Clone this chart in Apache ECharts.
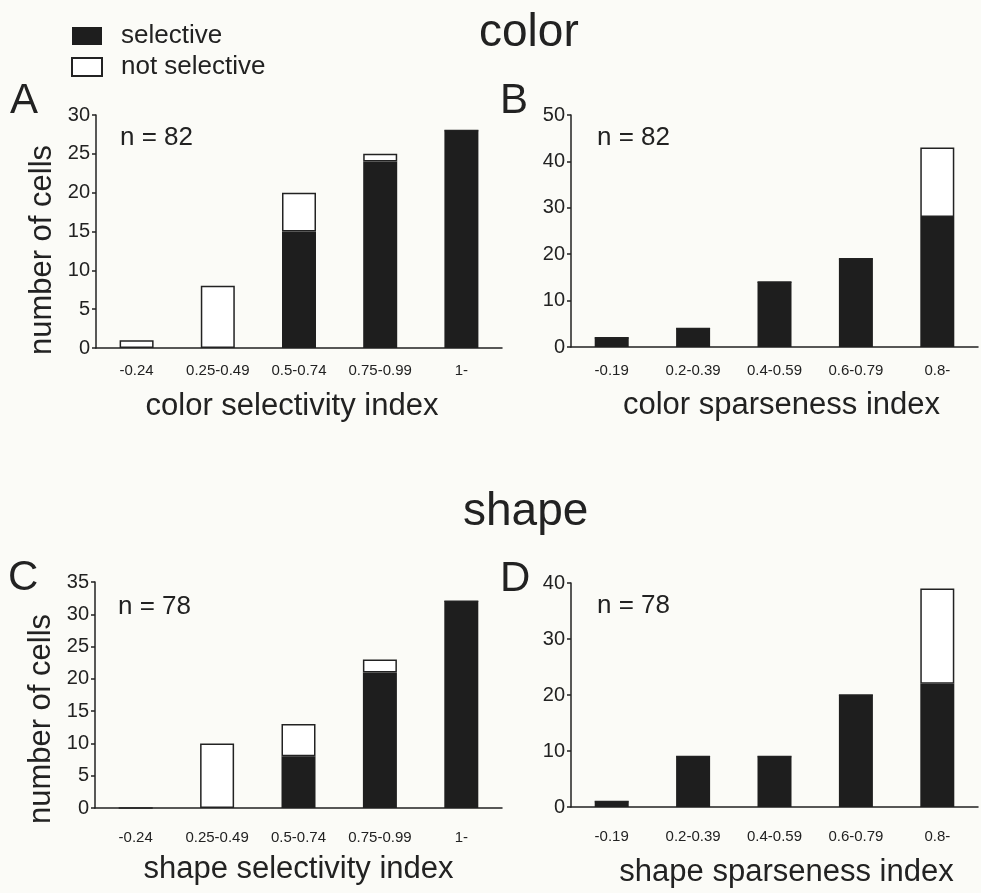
<!DOCTYPE html>
<html>
<head>
<meta charset="utf-8">
<title>color / shape selectivity</title>
<script src="https://cdn.jsdelivr.net/npm/echarts@6/dist/echarts.min.js"></script>
<style>
  html, body { margin: 0; padding: 0; background: #fbfbf7; }
  #main { width: 981px; height: 893px; }
</style>
</head>
<body>
<div id="main"></div>
<script>
// categories
const selectivityCats = ['-0.24', '0.25-0.49', '0.5-0.74', '0.75-0.99', '1-']
const sparsenessCats = ['-0.19', '0.2-0.39', '0.4-0.59', '0.6-0.79', '0.8-']

// A: color selectivity index
const aSelective = [0, 0, 15, 24, 28]
const aNotSelective = [1, 8, 5, 1, 0]
// B: color sparseness index
const bSelective = [2, 4, 14, 19, 28]
const bNotSelective = [0, 0, 0, 0, 15]
// C: shape selectivity index
const cSelective = [0, 0, 8, 21, 32]
const cNotSelective = [0, 10, 5, 2, 0]
// D: shape sparseness index
const dSelective = [1, 9, 9, 20, 22]
const dNotSelective = [0, 0, 0, 0, 17]

const FONT = "'Liberation Sans', Arial, sans-serif"
const INK = '#222'

function xAxis(gridIndex, cats, name, labelMargin, nameGap, namePad) {
  return {
    type: 'category',
    gridIndex: gridIndex,
    data: cats,
    axisLine: { lineStyle: { color: INK, width: 1.5 } },
    axisTick: { inside: true, length: 4, lineStyle: { color: INK, width: 1.5 } },
    axisLabel: {
      color: INK, fontSize: 15, fontFamily: FONT, margin: labelMargin,
      interval: 0, hideOverlap: false
    },
    name: name,
    nameLocation: 'middle',
    nameGap: nameGap,
    nameTextStyle: { color: INK, fontSize: 31, fontFamily: FONT, padding: namePad }
  }
}

function yAxis(gridIndex, max, interval, name, namePad) {
  return {
    type: 'value',
    gridIndex: gridIndex,
    min: 0,
    max: max,
    interval: interval,
    splitLine: { show: false },
    axisLine: { show: true, lineStyle: { color: INK, width: 1.5 } },
    axisTick: { show: true, length: 4, lineStyle: { color: INK, width: 1.5 } },
    axisLabel: { color: INK, fontSize: 20, fontFamily: FONT, margin: 6 },
    name: name,
    nameLocation: 'middle',
    nameRotate: 90,
    nameGap: 38,
    nameTextStyle: { color: INK, fontSize: 31, fontFamily: FONT, padding: namePad }
  }
}

function stack(idx, selective, notSelective) {
  return [
    {
      name: 'selective',
      type: 'bar',
      xAxisIndex: idx,
      yAxisIndex: idx,
      stack: 'g' + idx,
      barWidth: 34,
      itemStyle: { color: '#1e1e1e' },
      data: selective
    },
    {
      name: 'not selective',
      type: 'bar',
      xAxisIndex: idx,
      yAxisIndex: idx,
      stack: 'g' + idx,
      barWidth: 34,
      itemStyle: { color: '#ffffff', borderColor: INK, borderWidth: 1.5 },
      data: notSelective
    }
  ]
}

function label(text, x, y, size) {
  return {
    type: 'text',
    left: x,
    top: y - size / 2,
    style: { text: text, fill: INK, fontSize: size, fontFamily: FONT }
  }
}

const option = {
  backgroundColor: '#fbfbf7',
  animation: false,
  legend: {
    orient: 'vertical',
    left: 71,
    top: 23,
    padding: 0,
    itemWidth: 30,
    itemHeight: 18,
    itemGap: 5,
    icon: 'rect',
    textStyle: { color: INK, fontSize: 26, fontFamily: FONT, padding: [0, 0, 0, 14] },
    data: ['selective', 'not selective']
  },
  grid: [
    { left: 96, top: 115, width: 406, height: 233 },
    { left: 571, top: 115, width: 407, height: 232 },
    { left: 95, top: 582, width: 407, height: 226 },
    { left: 571, top: 583, width: 407, height: 224 }
  ],
  xAxis: [
    xAxis(0, selectivityCats, 'color selectivity index', 15, 43, [0, 14, 0, 0]),
    xAxis(1, sparsenessCats, 'color sparseness index', 16, 43, [0, 0, 0, 14]),
    xAxis(2, selectivityCats, 'shape selectivity index', 22, 46, [0, 0, 0, 0]),
    xAxis(3, sparsenessCats, 'shape sparseness index', 22, 50, [0, 0, 0, 24])
  ],
  yAxis: [
    yAxis(0, 30, 5, 'number of cells', [0, 37, 0, 0]),
    yAxis(1, 50, 10, '', 0),
    yAxis(2, 35, 5, 'number of cells', [0, 48, 0, 0]),
    yAxis(3, 40, 10, '', 0)
  ],
  series: [].concat(
    stack(0, aSelective, aNotSelective),
    stack(1, bSelective, bNotSelective),
    stack(2, cSelective, cNotSelective),
    stack(3, dSelective, dNotSelective)
  ),
  graphic: [
    // section titles
    label('color', 479, 33, 46),
    label('shape', 463, 512, 46),
    // panel letters
    label('A', 10, 101, 42),
    label('B', 500, 101, 42),
    label('C', 8, 578, 42),
    label('D', 500, 579, 42),
    // n counts
    label('n = 82', 120, 138, 26),
    label('n = 82', 597, 138, 26),
    label('n = 78', 118, 607, 26),
    label('n = 78', 597, 606, 26)
  ]
}

const chart = echarts.init(document.getElementById('main'))
chart.setOption(option)
</script>
</body>
</html>
